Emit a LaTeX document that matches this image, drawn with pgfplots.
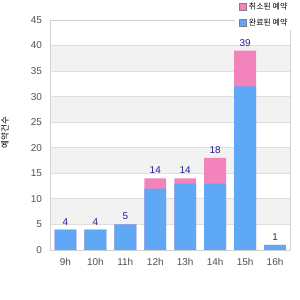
\documentclass[border=0pt]{standalone}
\usepackage{fontspec}
\setmainfont{Liberation Sans}
\newfontfamily\kr{Noto Sans CJK KR}
\usepackage{pgfplots}
\pgfplotsset{compat=1.18}
\definecolor{barblue}{RGB}{95,168,245}
\definecolor{barpink}{RGB}{243,131,187}
\definecolor{lblnavy}{RGB}{35,35,145}
\definecolor{band}{RGB}{242,242,242}
\definecolor{gridc}{RGB}{222,222,222}
\definecolor{framec}{RGB}{210,210,210}
\definecolor{tickc}{RGB}{80,80,80}
\begin{document}
\begin{tikzpicture}
\useasboundingbox (0,0) rectangle (300bp,300bp);
\begin{axis}[
  at={(50.5bp,50bp)}, anchor=south west,
  scale only axis, width=239.5bp, height=230bp,
  ybar, bar width=0.73, bar shift=0pt,
  xmin=-0.5, xmax=7.5, ymin=0, ymax=45,
  xtick={0,...,7}, xticklabels={9h,10h,11h,12h,13h,14h,15h,16h},
  ytick={0,5,...,45},
  major tick length=0,
  ymajorgrids, grid style={gridc, line width=0.8bp},
  axis line style={framec, line width=0.8bp},
  tick label style={font=\fontsize{10}{12}\selectfont, text=tickc},
  /pgf/number format/assume math mode=true,
  yticklabel style={xshift=-5bp},
  xticklabel style={yshift=-5bp},
  ylabel={\kr 예약건수},
  ylabel style={font=\fontsize{8.5}{10}\selectfont, text=black, at={(axis description cs:-0.19,0.51)}, anchor=center},
  legend style={draw=none, fill=white, at={(axis description cs:1.015,1.087)}, anchor=north east,
    font=\kr\fontsize{8}{10}\selectfont, cells={anchor=west}, inner xsep=4bp, inner ysep=1bp, row sep=4bp},
  legimg/.style={legend image code/.code={\draw[##1, draw=gray, line width=0.6bp] (0bp,-3.5bp) rectangle (7bp,3.5bp);}},
]
\fill[band] (axis cs:-0.5,5.08) rectangle (axis cs:7.5,9.92);
\fill[band] (axis cs:-0.5,15.08) rectangle (axis cs:7.5,19.92);
\fill[band] (axis cs:-0.5,25.08) rectangle (axis cs:7.5,29.92);
\fill[band] (axis cs:-0.5,35.08) rectangle (axis cs:7.5,39.92);
% total (blue + pink)
\addplot[fill=barpink, draw=none, legimg,
  nodes near coords, every node near coord/.append style={font=\fontsize{10}{12}\selectfont, text=lblnavy, yshift=1bp}]
  coordinates {(0,4) (1,4) (2,5) (3,14) (4,14) (5,18) (6,39) (7,1)};
\addlegendentry{취소된 예약}
% blue part
\addplot[fill=barblue, draw=none, legimg] coordinates {(0,4) (1,4) (2,5) (3,12) (4,13) (5,13) (6,32) (7,1)};
\addlegendentry{완료된 예약}
\end{axis}
\end{tikzpicture}
\end{document}
